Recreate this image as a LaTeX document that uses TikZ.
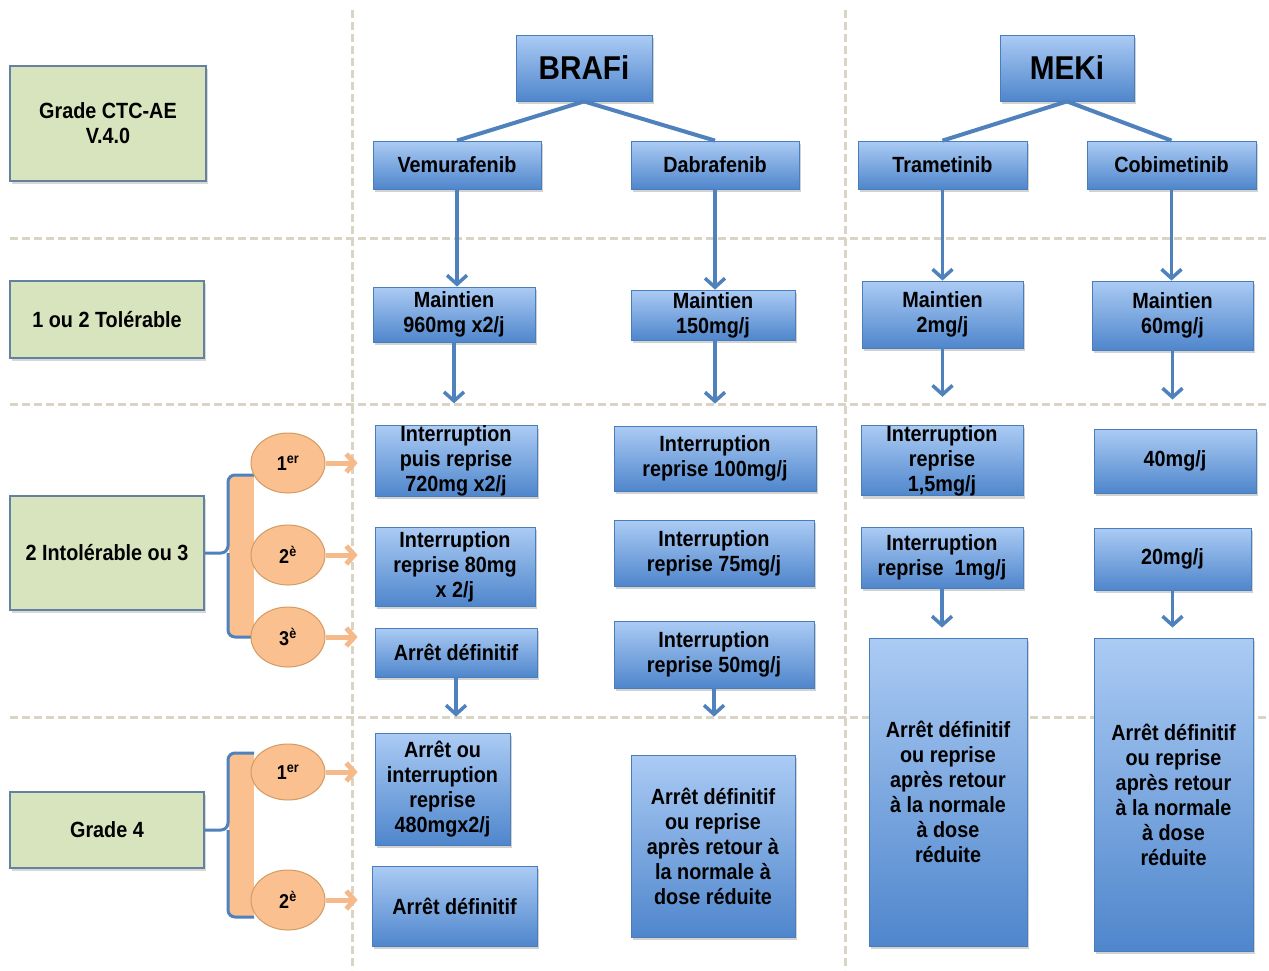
\documentclass[tikz,border=0pt]{standalone}
\usepackage{fontspec}
\setmainfont{Liberation Sans}[FakeStretch=0.9]
\usetikzlibrary{arrows.meta,shadows,shapes.geometric}
\definecolor{bTop}{HTML}{ABCBF4}
\definecolor{bBot}{HTML}{4F86CC}
\definecolor{bEdge}{HTML}{4A7EBB}
\definecolor{gFill}{HTML}{D7E4BD}
\definecolor{gEdge}{HTML}{6482A0}
\definecolor{oFill}{HTML}{FAC090}
\definecolor{oEdge}{HTML}{D39A62}
\definecolor{oArr}{HTML}{F5B98A}
\definecolor{sepc}{HTML}{D9D4C3}
\definecolor{arrc}{HTML}{4F81BD}
\tikzset{
  bbox/.style={draw=bEdge, line width=0.8pt, top color=bTop, bottom color=bBot,
    align=center, inner sep=0pt, font=\fontsize{22}{25}\selectfont\bfseries,
    drop shadow={shadow xshift=2pt,shadow yshift=-3pt,opacity=0.35}},
  bigbox/.style={bbox, font=\fontsize{33}{36}\selectfont\bfseries},
  gbox/.style={draw=gEdge, line width=1.3pt, fill=gFill, align=center, inner sep=0pt,
    font=\fontsize{22}{25}\selectfont\bfseries,
    drop shadow={shadow xshift=2pt,shadow yshift=-3pt,opacity=0.3}},
  circ/.style={ellipse, draw=oEdge, line width=1pt, fill=oFill, minimum width=74pt,
    minimum height=60pt, inner sep=0pt, font=\fontsize{20}{22}\selectfont\bfseries},
  sepline/.style={draw=sepc, line width=3pt, dash pattern=on 8pt off 4pt},
  barrow/.style={draw=arrc, line width=3.5pt, -{Straight Barb[length=9pt,width=20pt]}},
  bline/.style={draw=arrc, line width=4pt},
  oarrow/.style={draw=oArr, line width=5pt, -{Straight Barb[length=8pt,width=18pt]}},
  bracketline/.style={draw=arrc, line width=3pt, rounded corners=7pt},
}
\newcommand\bx[7][bbox]{\node[#1, minimum width={#5-#3}, minimum height={#6-#4}] (#2) at ({(#3+#5)/2},{(#4+#6)/2}) {#7};}
\begin{document}
\begin{tikzpicture}[x=1pt,y=-1pt]
\fill[white] (0,0) rectangle (1269,970);
\useasboundingbox (0,0) rectangle (1269,970);
% separators
\draw[sepline] (352,10) -- (352,970);
\draw[sepline] (845,10) -- (845,970);
\draw[sepline] (10,238) -- (1269,238);
\draw[sepline] (10,404) -- (1269,404);
\draw[sepline] (10,717) -- (1269,717);
% green boxes
\bx[gbox]{g0}{10}{66}{206}{181}{Grade CTC-AE\\V.4.0}
\bx[gbox]{g1}{10}{281}{204}{358}{1 ou 2 Tolérable}
\bx[gbox]{g2}{10}{496}{204}{610}{2 Intolérable ou 3}
\bx[gbox]{g3}{10}{792}{204}{868}{Grade 4}
% top
\bx[bigbox]{braf}{516}{35}{652}{101}{BRAFi}
\bx[bigbox]{mek}{1000}{35}{1134}{101}{MEKi}
\bx{vem}{373}{141}{541}{189}{Vemurafenib}
\bx{dab}{631}{141}{799}{189}{Dabrafenib}
\bx{tra}{858}{141}{1027}{189}{Trametinib}
\bx{cob}{1087}{141}{1256}{189}{Cobimetinib}
% maintien
\bx{vm}{373}{287}{535}{342}{Maintien\\960mg x2/j}
\bx{dm}{631}{290}{795}{340}{Maintien\\150mg/j}
\bx{tm}{862}{281}{1023}{348}{Maintien\\2mg/j}
\bx{cm}{1092}{281}{1253}{350}{Maintien\\60mg/j}
% grade 2-3
\bx{va}{375}{426}{537}{496}{Interruption\\puis reprise\\720mg x2/j}
\bx{vb}{375}{527}{535}{606}{Interruption\\reprise 80mg\\x 2/j}
\bx{vc}{375}{628}{537}{677}{Arrêt définitif}
\bx{da}{614}{426}{816}{491}{Interruption\\reprise 100mg/j}
\bx{db}{614}{520}{814}{586}{Interruption\\reprise 75mg/j}
\bx{dc}{614}{621}{814}{688}{Interruption\\reprise 50mg/j}
\bx{ta}{861}{426}{1023}{495}{Interruption\\reprise\\1,5mg/j}
\bx{tb}{861}{527}{1023}{588}{Interruption\\reprise\ \ 1mg/j}
\bx{ca}{1094}{429}{1256}{493}{40mg/j}
\bx{cb}{1094}{528}{1251}{590}{20mg/j}
% grade 4
\bx{vd}{375}{733}{510}{845}{Arrêt ou\\interruption\\reprise\\480mgx2/j}
\bx{ve}{372}{866}{537}{946}{Arrêt définitif}
\bx{dd}{631}{755}{795}{937}{Arrêt définitif\\ou reprise\\après retour à\\la normale à\\dose réduite}
\bx{td}{869}{638}{1027}{946}{Arrêt définitif\\ou reprise\\après retour\\à la normale\\à dose\\réduite}
\bx{cd}{1094}{638}{1253}{951}{Arrêt définitif\\ou reprise\\après retour\\à la normale\\à dose\\réduite}
% tree lines
\draw[bline] (braf.south) -- (vem.north);
\draw[bline] (braf.south) -- (dab.north);
\draw[bline] (mek.south) -- (tra.north);
\draw[bline] (mek.south) -- (cob.north);
% blue arrows
\draw[barrow] (vem) -- (vem |- vm.north);
\draw[barrow] (dab) -- (dab |- dm.north);
\draw[barrow] (tra) -- (tra |- tm.north);
\draw[barrow] (cob) -- (cob |- cm.north);
\draw[barrow, shorten >=22pt] (vm) -- (vm |- va.north);
\draw[barrow, shorten >=22pt] (dab |- dm.south) -- (dab |- da.north);
\draw[barrow, shorten >=28pt] (tm) -- (tm |- ta.north);
\draw[barrow, shorten >=29pt] (cm) -- (cm |- ca.north);
\draw[barrow, shorten >=16pt] (vc) -- (vc |- vd.north);
\draw[barrow, shorten >=38pt] (dc) -- (dc |- dd.north);
\draw[barrow, shorten >=10pt] (tb) -- (tb |- td.north);
\draw[barrow, shorten >=10pt] (cb) -- (cb |- cd.north);
% brackets
\fill[oFill] (229,475) rectangle (254,637);
\draw[bracketline] (254,475) -- (228,475) -- (228,553) -- (g2.east);
\draw[bracketline] (254,637) -- (228,637) -- (228,553);
\fill[oFill] (229,753) rectangle (254,917);
\draw[bracketline] (254,753) -- (228,753) -- (228,830) -- (g3.east);
\draw[bracketline] (254,917) -- (228,917) -- (228,830);
% circles
\node[circ] (r1) at (288,463) {1\textsuperscript{er}};
\node[circ] (r2) at (288,555) {2\textsuperscript{è}};
\node[circ] (r3) at (288,637) {3\textsuperscript{è}};
\node[circ, minimum height=56pt] (s1) at (288,772) {1\textsuperscript{er}};
\node[circ] (s2) at (288,900) {2\textsuperscript{è}};
\draw[oarrow, shorten >=17pt] (r1) -- (r1 -| va.west);
\draw[oarrow, shorten >=17pt] (r2) -- (r2 -| vb.west);
\draw[oarrow, shorten >=17pt] (r3) -- (r3 -| vc.west);
\draw[oarrow, shorten >=17pt] (s1) -- (s1 -| vd.west);
\draw[oarrow, shorten >=14pt] (s2) -- (s2 -| ve.west);
\end{tikzpicture}
\end{document}
